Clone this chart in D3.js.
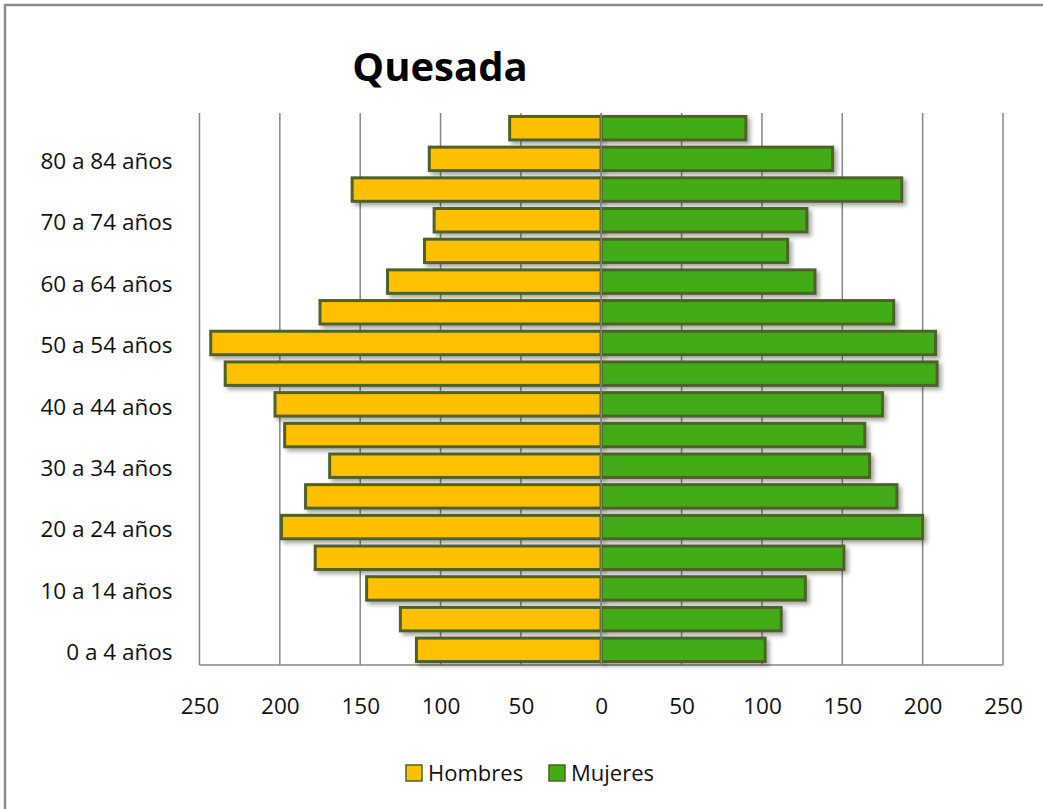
<!DOCTYPE html>
<html lang="es">
<head>
<meta charset="UTF-8">
<title>Quesada</title>
<script src="https://d3js.org/d3.v7.min.js"></script>
<style>
    body {
        margin: 0;
        background: #fff;
        font-family: "Open Sans", sans-serif;
    }
</style>
</head>
<body>
<div id="chart"></div>
<script>
    // age groups from youngest to oldest
    const ageGroups = ["0 a 4 años", "5 a 9 años", "10 a 14 años", "15 a 19 años", "20 a 24 años",
        "25 a 29 años", "30 a 34 años", "35 a 39 años", "40 a 44 años", "45 a 49 años",
        "50 a 54 años", "55 a 59 años", "60 a 64 años", "65 a 69 años", "70 a 74 años",
        "75 a 79 años", "80 a 84 años", "85 y más años"];
    const hombres = [115, 125, 146, 178, 199, 184, 169, 197, 203, 234, 243, 175, 133, 110, 104, 155, 107, 57];
    const mujeres = [102, 112, 127, 151, 200, 184, 167, 164, 175, 209, 208, 182, 133, 116, 128, 187, 144, 90];
    const xTicks = [-250, -200, -150, -100, -50, 0, 50, 100, 150, 200, 250];
    const shownLabels = ["0 a 4 años", "10 a 14 años", "20 a 24 años", "30 a 34 años", "40 a 44 años",
        "50 a 54 años", "60 a 64 años", "70 a 74 años", "80 a 84 años"];
    const series = [
        {name: "Hombres", values: hombres, sign: -1, color: "#FFC000"},
        {name: "Mujeres", values: mujeres, sign: 1, color: "#43AC12"}
    ];

    const W = 1043, H = 809;
    const plot = {left: 199.5, right: 1003, top: 113, bottom: 665};

    const svg = d3.select("#chart").append("svg")
        .attr("width", W)
        .attr("height", H);

    const defs = svg.append("defs");
    defs.append("filter")
        .attr("id", "shadow")
        .attr("x", "-5%").attr("y", "-30%")
        .attr("width", "115%").attr("height", "180%")
        .append("feDropShadow")
        .attr("dx", 3).attr("dy", 3)
        .attr("stdDeviation", 2)
        .attr("flood-color", "#000")
        .attr("flood-opacity", 0.35);

    // outer frame (only top and left edges are visible)
    svg.append("rect")
        .attr("x", 5).attr("y", 5)
        .attr("width", W + 20).attr("height", H + 20)
        .attr("fill", "none")
        .attr("stroke", "#8c8c8c")
        .attr("stroke-width", 2.5);

    const x = d3.scaleLinear().domain([-250, 250]).range([plot.left, plot.right]);
    const y = d3.scaleBand()
        .domain(ageGroups.slice().reverse())
        .range([plot.top, plot.bottom])
        .paddingInner(0.17)
        .paddingOuter(0.08);

    // gridlines
    svg.append("g")
        .selectAll("line")
        .data(xTicks)
        .join("line")
        .attr("x1", d => x(d)).attr("x2", d => x(d))
        .attr("y1", plot.top).attr("y2", plot.bottom)
        .attr("stroke", "#868686")
        .attr("stroke-width", 1.5);

    svg.append("line")
        .attr("x1", plot.left).attr("x2", plot.right)
        .attr("y1", plot.bottom).attr("y2", plot.bottom)
        .attr("stroke", "#868686")
        .attr("stroke-width", 1.5);

    // bars
    series.forEach(s => {
        svg.append("g")
            .attr("filter", "url(#shadow)")
            .selectAll("rect")
            .data(s.values.map((v, i) => ({age: ageGroups[i], value: v})))
            .join("rect")
            .attr("x", d => s.sign < 0 ? x(-d.value) : x(0))
            .attr("width", d => Math.abs(x(d.value) - x(0)))
            .attr("y", d => y(d.age) + 1)
            .attr("height", y.bandwidth() - 2)
            .attr("fill", s.color)
            .attr("stroke", "#4F6228")
            .attr("stroke-width", 3);
    });

    // zero line on top of bars
    svg.append("line")
        .attr("x1", x(0)).attr("x2", x(0))
        .attr("y1", plot.top).attr("y2", plot.bottom)
        .attr("stroke", "#868686")
        .attr("stroke-width", 1.5);

    // y axis labels
    const yAxis = svg.append("g")
        .attr("transform", `translate(${plot.left},3)`)
        .call(d3.axisLeft(y).tickValues(shownLabels).tickSize(0).tickPadding(27));
    yAxis.select(".domain").remove();
    yAxis.selectAll("text")
        .attr("font-family", "Open Sans")
        .attr("font-size", 22.5)
        .attr("fill", "#111");

    // x axis labels (absolute values)
    const xAxis = svg.append("g")
        .attr("transform", `translate(0,${plot.bottom})`)
        .call(d3.axisBottom(x).tickValues(xTicks).tickSize(0).tickPadding(33)
            .tickFormat(d => Math.abs(d)));
    xAxis.select(".domain").remove();
    xAxis.selectAll("text")
        .attr("font-family", "Open Sans")
        .attr("font-size", 22.5)
        .attr("fill", "#111");

    // title
    svg.append("text")
        .attr("x", 440)
        .attr("y", 81)
        .attr("text-anchor", "middle")
        .attr("font-family", "Open Sans")
        .attr("font-weight", "bold")
        .attr("font-size", 40)
        .attr("fill", "#000")
        .text("Quesada");

    // legend
    const legendX = [406, 549];
    const legend = svg.append("g");
    series.forEach((s, i) => {
        legend.append("rect")
            .attr("x", legendX[i]).attr("y", 765)
            .attr("width", 16).attr("height", 16)
            .attr("fill", s.color)
            .attr("stroke", "#4F6228")
            .attr("stroke-width", 1.5);
        legend.append("text")
            .attr("x", legendX[i] + 22)
            .attr("y", 781)
            .attr("font-family", "Open Sans")
            .attr("font-size", 22)
            .attr("fill", "#111")
            .text(s.name);
    });
</script>
</body>
</html>
